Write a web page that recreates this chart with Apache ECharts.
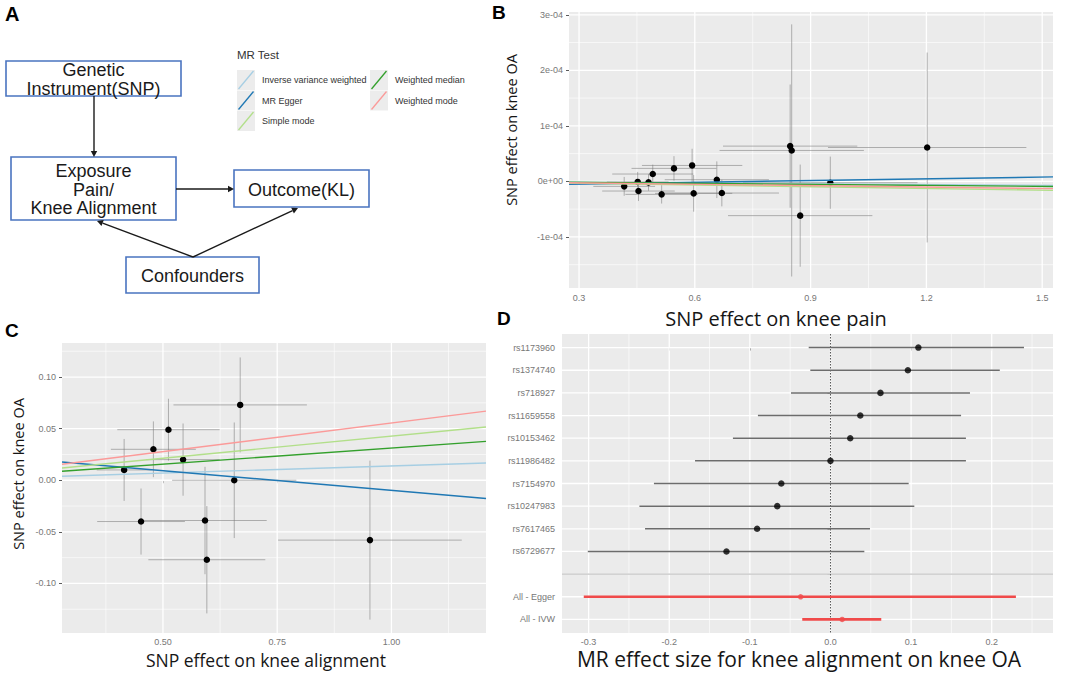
<!DOCTYPE html>
<html><head><meta charset="utf-8">
<script src="https://cdn.jsdelivr.net/npm/echarts@6/dist/echarts.min.js"></script>
<style>html,body{margin:0;padding:0;background:#fff}#c{width:1065px;height:674px}</style>
</head><body><div id="c"></div>
<script>
// ================= DATA =================
const methods = ['Inverse variance weighted','MR Egger','Simple mode','Weighted median','Weighted mode'];
const methodColors = ['#a6cee3','#1f78b4','#b2df8a','#33a02c','#fb9a99'];

// Panel B: SNP effect on knee pain (x) vs knee OA (y)
const bX     = [0.417, 0.452, 0.454, 0.480, 0.491, 0.514, 0.546, 0.593, 0.597, 0.657, 0.670, 0.847, 0.851, 0.873, 0.951, 1.202];
const bY     = [-9.0e-6, -1.0e-6, -1.74e-5, -1.8e-6, 1.32e-5, -2.34e-5, 2.34e-5, 2.87e-5, -2.16e-5, 3.0e-6, -2.1e-5, 6.35e-5, 5.57e-5, -6.17e-5, -2.4e-6, 6.1e-5];
const bXHalf = [0.080, 0.080, 0.094, 0.070, 0.105, 0.094, 0.110, 0.130, 0.100, 0.135, 0.148, 0.174, 0.187, 0.187, 0.226, 0.257];
const bYHalf = [1.7e-5, 1.8e-5, 1.8e-5, 1.5e-5, 1.7e-5, 1.65e-5, 2.2e-5, 3.0e-5, 3.3e-5, 3.3e-5, 2.4e-5, 1.11e-4, 2.27e-4, 9.2e-5, 4.7e-5, 1.71e-4];
const bSlope     = [-4.7e-6, 1.05e-5, -1.06e-5, -6.0e-6, -8.6e-6];
const bIntercept = [0, -8.0e-6, 0, 0, 0];
const bXTicks = [0.3, 0.6, 0.9, 1.2, 1.5];
const bXTickLabels = ['0.3','0.6','0.9','1.2','1.5'];
const bYTicks = [-1e-4, 0, 1e-4, 2e-4, 3e-4];
const bYTickLabels = ['-1e-04','0e+00','1e-04','2e-04','3e-04'];

// Panel C: SNP effect on knee alignment (x) vs knee OA (y)
const cX     = [0.415, 0.452, 0.479, 0.512, 0.544, 0.592, 0.596, 0.656, 0.669, 0.953];
const cY     = [0.010, -0.040, 0.030, 0.049, 0.020, -0.039, -0.077, 0.000, 0.073, -0.058];
const cXHalf = [0.060, 0.096, 0.093, 0.112, 0.080, 0.135, 0.128, 0.136, 0.146, 0.201];
const cYHalf = [0.030, 0.032, 0.027, 0.030, 0.035, 0.052, 0.052, 0.056, 0.046, 0.077];
const cSlope     = [0.0139, -0.0382, 0.0428, 0.0312, 0.0555];
const cIntercept = [0, 0.0284, 0, 0, 0];
const cXTicks = [0.5, 0.75, 1.0];
const cXTickLabels = ['0.50','0.75','1.00'];
const cYTicks = [-0.10, -0.05, 0, 0.05, 0.10];
const cYTickLabels = ['-0.10','-0.05','0.00','0.05','0.10'];

// Panel D: forest plot
const dLabels = ['rs1173960','rs1374740','rs718927','rs11659558','rs10153462','rs11986482','rs7154970','rs10247983','rs7617465','rs6729677','','All - Egger','All - IVW'];
const dEst = [0.109, 0.096, 0.062, 0.037, 0.0245, 0.000, -0.061, -0.066, -0.091, -0.129, null, -0.037, 0.0145];
const dLo  = [-0.027, -0.025, -0.049, -0.090, -0.121, -0.168, -0.219, -0.237, -0.230, -0.301, null, -0.306, -0.035];
const dHi  = [0.240, 0.210, 0.173, 0.162, 0.168, 0.168, 0.097, 0.104, 0.049, 0.042, null, 0.230, 0.063];
const dXTicks = [-0.3, -0.2, -0.1, 0.0, 0.1, 0.2];
const dXTickLabels = ['-0.3','-0.2','-0.1','0.0','0.1','0.2'];

// ================= HELPERS =================
const R = {
  B: {x:[0.274, 1.528], y:[-1.92e-4, 3.05e-4]},
  C: {x:[0.279, 1.207], y:[-0.148, 0.133]},
  D: {x:[-0.333, 0.276], y:[-0.6, 12.6]}
};
const TICK_FONT = 'Liberation Sans, Arial, sans-serif';
const TITLE_FONT = 'Open Sans, Noto Sans, sans-serif';

function nearestLabel(ticks, labels){
  return v => { let bi = 0, bd = Infinity; ticks.forEach((t,i)=>{ const d = Math.abs(t - v); if (d < bd){bd = d; bi = i;} }); return labels[bi]; };
}
function minorsOf(majors, lo, hi){
  const step = majors[1] - majors[0]; const out = [];
  for (let i = 0; i <= majors.length; i++){
    const m = (i < majors.length ? majors[i] : majors[majors.length-1] + step) - step/2;
    if (m > lo && m < hi) out.push(m);
  }
  return out;
}
function valAxis(idx, range, ticks, labels, margin, extra){
  return Object.assign({
    gridIndex: idx, type:'value', min: range[0], max: range[1],
    axisLine:{show:false},
    axisTick:{show:true, length:3, customValues: ticks, lineStyle:{color:'#5a5a5a', width:1}},
    axisLabel:{customValues: ticks, formatter: nearestLabel(ticks, labels), color:'#777', fontSize:9, fontFamily: TICK_FONT, margin: margin},
    splitLine:{show:false}, minorSplitLine:{show:false}
  }, extra || {});
}
function gridLinesSeries(idx, rng, xMaj, yMaj, xMin, yMin){
  const data = [], sty = [];
  xMin.forEach(v => { data.push([v, 0]); sty.push(0.6); });
  yMin.forEach(v => { data.push([v, 1]); sty.push(0.6); });
  xMaj.forEach(v => { data.push([v, 0]); sty.push(1.3); });
  yMaj.forEach(v => { data.push([v, 1]); sty.push(1.3); });
  return {
    type:'custom', xAxisIndex: idx, yAxisIndex: idx, silent:true, z:1, animation:false,
    data: data,
    renderItem: (params, api) => {
      const cs = params.coordSys; const v = api.value(0), o = api.value(1);
      const w = sty[params.dataIndex];
      if (o === 0){
        const px = api.coord([v, rng.y[0]])[0];
        return {type:'line', shape:{x1:px, y1:cs.y, x2:px, y2:cs.y+cs.height}, style:{stroke:'#ffffff', lineWidth:w}};
      }
      const py = api.coord([rng.x[0], v])[1];
      return {type:'line', shape:{x1:cs.x, y1:py, x2:cs.x+cs.width, y2:py}, style:{stroke:'#ffffff', lineWidth:w}};
    }
  };
}
function errBarSeries(idx, xs, ys, xh, yh){
  return {
    type:'custom', xAxisIndex: idx, yAxisIndex: idx, z:2, silent:true, clip:true,
    data: xs.map((x,i) => [x, ys[i], x - xh[i], x + xh[i], ys[i] - yh[i], ys[i] + yh[i]]),
    renderItem: (params, api) => {
      const x = api.value(0), y = api.value(1);
      const a = api.coord([api.value(2), y]), b = api.coord([api.value(3), y]);
      const c = api.coord([x, api.value(4)]), d = api.coord([x, api.value(5)]);
      const st = {stroke:'rgba(120,120,120,0.55)', lineWidth:1};
      return {type:'group', children:[
        {type:'line', shape:{x1:a[0], y1:a[1], x2:b[0], y2:b[1]}, style:st},
        {type:'line', shape:{x1:c[0], y1:c[1], x2:d[0], y2:d[1]}, style:st}
      ]};
    }
  };
}
function mrLines(idx, slopes, intercepts, xr){
  return methods.map((m,i) => ({
    type:'line', name:m, xAxisIndex: idx, yAxisIndex: idx, z:4, silent:true, clip:true,
    showSymbol:false, symbol:'none', animation:false,
    lineStyle:{color: methodColors[i], width:1.4},
    data: [[xr[0], intercepts[i] + slopes[i]*xr[0]], [xr[1], intercepts[i] + slopes[i]*xr[1]]]
  }));
}
function points(idx, xs, ys, color, size){
  return {type:'scatter', xAxisIndex: idx, yAxisIndex: idx, z:3, silent:true, symbolSize:size,
    itemStyle:{color: color, opacity:1}, data: xs.map((x,i) => [x, ys[i]])};
}
function arrow(x1,y1,x2,y2){
  const dx = x2-x1, dy = y2-y1, L = Math.hypot(dx,dy), ux = dx/L, uy = dy/L;
  const hl = 6, hw = 3.2, bx = x2-ux*hl, by = y2-uy*hl;
  return [
    {type:'line', shape:{x1:x1, y1:y1, x2:bx, y2:by}, style:{stroke:'#1a1a1a', lineWidth:1.4}},
    {type:'polygon', shape:{points:[[x2,y2],[bx-uy*hw, by+ux*hw],[bx+uy*hw, by-ux*hw]]}, style:{fill:'#1a1a1a'}}
  ];
}
function box(x,y,w,h,text){
  return [
    {type:'rect', shape:{x:x, y:y, width:w, height:h}, style:{fill:'#fff', stroke:'#4a74c0', lineWidth:1.6}},
    {type:'text', x:x+w/2, y:y+h/2+1, style:{text:text, font:'18px Liberation Sans, Arial, sans-serif', fill:'#1a1a1a', align:'center', verticalAlign:'middle', lineHeight:18.5}}
  ];
}
function label(t, x, y, size){
  return {type:'text', x:x, y:y, style:{text:t, font:'bold '+(size||19)+'px Liberation Sans, Arial, sans-serif', fill:'#000'}};
}
function title(t, x, y, size, rot){
  return {type:'text', x:x, y:y, rotation: rot ? Math.PI/2 : 0,
    style:{text:t, font:size+'px '+TITLE_FONT, fill:'#161616', align:'center', verticalAlign:'middle'}};
}

// ================= GRAPHICS (panel A, titles) =================
const g = [];
g.push(label('A', 5, 4, 20), label('B', 492, 3), label('C', 5, 321), label('D', 497, 309));
g.push(...box(6, 61, 175, 35, 'Genetic\nInstrument(SNP)'));
g.push(...box(11, 157, 165, 63, 'Exposure\nPain/\nKnee Alignment'));
g.push(...box(234, 170, 135, 37, 'Outcome(KL)'));
g.push(...box(126, 257, 133, 36, 'Confounders'));
g.push(...arrow(94, 96, 94, 157));
g.push(...arrow(176, 189, 234, 189));
g.push(...arrow(193, 257, 97, 221));
g.push(...arrow(193, 257, 298, 208));
g.push({type:'text', x:237, y:55, style:{text:'MR Test', font:'11.5px Liberation Sans, Arial, sans-serif', fill:'#333', verticalAlign:'middle'}});
const legCols = [237, 370], legRows = [80, 100.5, 121];
methods.forEach((m, i) => {
  const cx = legCols[Math.floor(i/3)], cy = legRows[i%3];
  g.push({type:'rect', shape:{x:cx, y:cy-10, width:18, height:20}, style:{fill:'#ececec'}});
  g.push({type:'line', shape:{x1:cx+1.5, y1:cy+9, x2:cx+16.5, y2:cy-9}, style:{stroke:methodColors[i], lineWidth:1.3}});
  g.push({type:'text', x:cx+25, y:cy, style:{text:m, font:'9px Liberation Sans, Arial, sans-serif', fill:'#333', verticalAlign:'middle'}});
});
g.push(title('SNP effect on knee pain', 776, 318, 20));
g.push(title('SNP effect on knee OA', 511, 130, 14.5, true));
g.push(title('SNP effect on knee alignment', 266, 660, 17.5));
g.push(title('SNP effect on knee OA', 18, 474, 14.5, true));
g.push(title('MR effect size for knee alignment on knee OA', 799, 659, 21));

// ================= SERIES =================
const series = [];
series.push(gridLinesSeries(0, R.B, bXTicks, bYTicks, minorsOf(bXTicks, R.B.x[0], R.B.x[1]), minorsOf(bYTicks, R.B.y[0], R.B.y[1])));
series.push(errBarSeries(0, bX, bY, bXHalf, bYHalf));
series.push(points(0, bX, bY, '#000', 6.5));
series.push(...mrLines(0, bSlope, bIntercept, R.B.x));
series.push(gridLinesSeries(1, R.C, cXTicks, cYTicks, minorsOf(cXTicks, R.C.x[0], R.C.x[1]), minorsOf(cYTicks, R.C.y[0], R.C.y[1])));
series.push(errBarSeries(1, cX, cY, cXHalf, cYHalf));
series.push(points(1, cX, cY, '#000', 6.5));
series.push(...mrLines(1, cSlope, cIntercept, R.C.x));
const dIdx = dLabels.map((_, i) => i);
const dBlank = dLabels.indexOf('');
series.push(gridLinesSeries(2, R.D, dXTicks, dIdx, minorsOf(dXTicks, R.D.x[0], R.D.x[1]), []));
series.push({
  type:'custom', xAxisIndex:2, yAxisIndex:2, z:1.5, silent:true,
  data: [[0, 0]],
  renderItem: (params, api) => {
    const cs = params.coordSys;
    const px = api.coord([0, 0])[0];
    const py = api.coord([0, dBlank])[1];
    return {type:'group', children:[
      {type:'line', shape:{x1:cs.x, y1:py, x2:cs.x+cs.width, y2:py}, style:{stroke:'#c4c4c4', lineWidth:1.3}},
      {type:'line', shape:{x1:px, y1:cs.y, x2:px, y2:cs.y+cs.height}, style:{stroke:'#555', lineWidth:1, lineDash:[1.5,1.5]}}
    ]};
  }
});
series.push({
  type:'custom', xAxisIndex:2, yAxisIndex:2, z:2, silent:true, clip:true,
  data: dLabels.map((l, i) => dEst[i] === null ? null : [dEst[i], i, dLo[i], dHi[i]]).filter(d => d),
  renderItem: (params, api) => {
    const y = api.value(1);
    const a = api.coord([api.value(2), y]), b = api.coord([api.value(3), y]);
    const summ = dLabels[y].indexOf('All') === 0;
    return {type:'line', shape:{x1:a[0], y1:a[1], x2:b[0], y2:b[1]},
      style:{stroke: summ ? '#f04a4a' : '#6c6c6c', lineWidth: summ ? 2.6 : 1.5}};
  }
});
series.push({type:'scatter', xAxisIndex:2, yAxisIndex:2, z:3, silent:true, symbolSize:6.5, itemStyle:{color:'#000'},
  data: dLabels.map((l,i) => (dEst[i] !== null && l.indexOf('All') !== 0) ? [dEst[i], i] : null).filter(d => d)});
series.push({type:'scatter', xAxisIndex:2, yAxisIndex:2, z:3, silent:true, symbolSize:5.5, itemStyle:{color:'#f04a4a'},
  data: dLabels.map((l,i) => (l.indexOf('All') === 0) ? [dEst[i], i] : null).filter(d => d)});

// ================= CHART =================
const chart = echarts.init(document.getElementById('c'), null, {renderer:'svg', width:1065, height:674});
const gridBase = {show:true, backgroundColor:'#ebebeb', borderWidth:0, containLabel:false, outerBoundsMode:'none'};
chart.setOption({
  backgroundColor:'#ffffff',
  animation:false,
  grid:[
    Object.assign({left:569, top:12, width:484, height:276}, gridBase),
    Object.assign({left:62, top:343, width:424, height:290}, gridBase),
    Object.assign({left:562, top:334, width:491, height:299}, gridBase)
  ],
  xAxis:[
    valAxis(0, R.B.x, bXTicks, bXTickLabels, 5),
    valAxis(1, R.C.x, cXTicks, cXTickLabels, 4),
    valAxis(2, R.D.x, dXTicks, dXTickLabels, 4)
  ],
  yAxis:[
    valAxis(0, R.B.y, bYTicks, bYTickLabels, 6),
    valAxis(1, R.C.y, cYTicks, cYTickLabels, 6),
    valAxis(2, R.D.y, dIdx, dLabels, 7, {inverse:true})
  ],
  series: series,
  graphic: {elements: g}
});
</script>
</body></html>
